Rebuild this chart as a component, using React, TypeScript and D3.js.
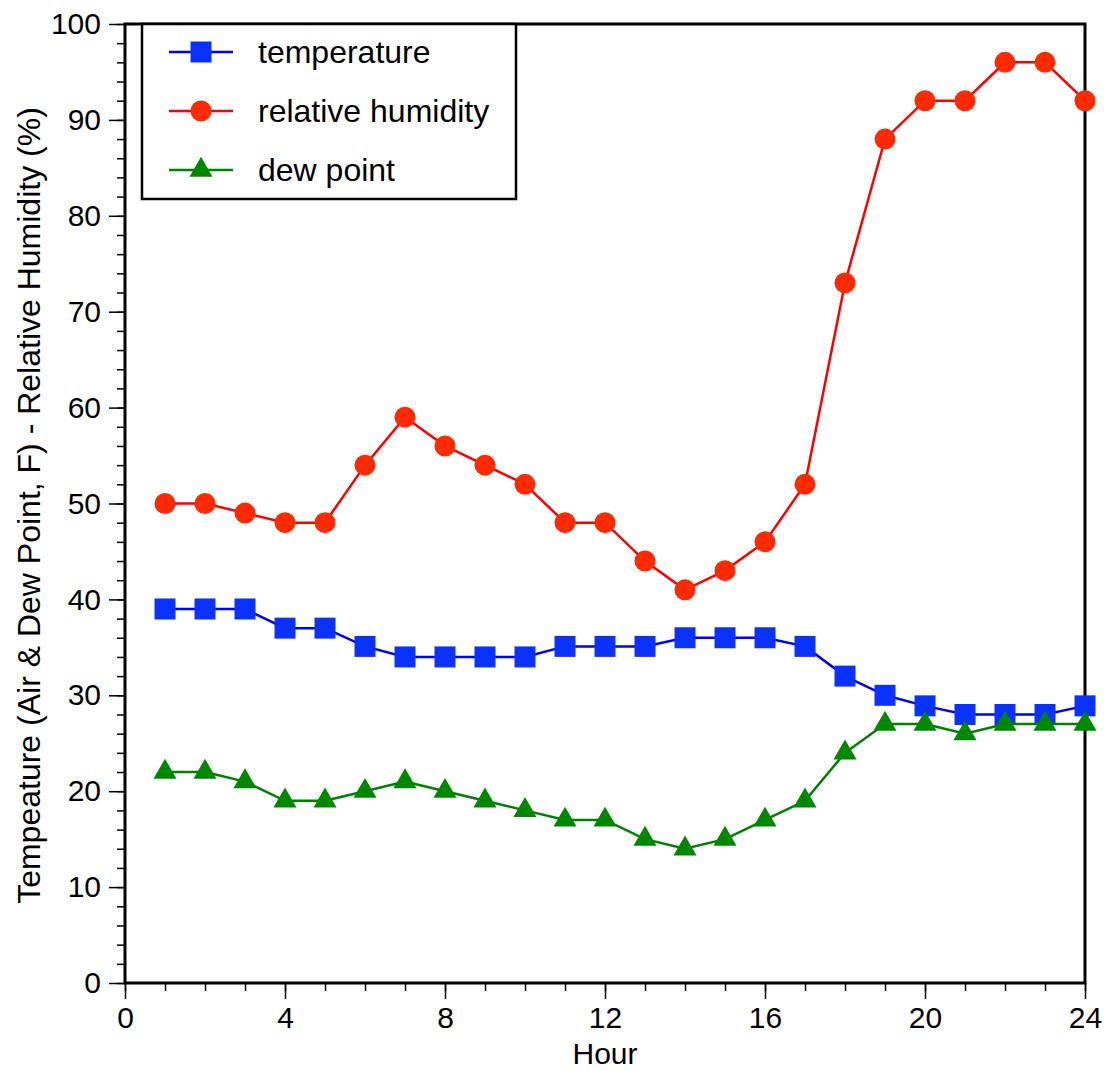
import React, { useEffect, useRef } from "react";
import * as d3 from "d3";

const hours = d3.range(1, 25);
const temperature = [39, 39, 39, 37, 37, 35.1, 34, 34, 34, 34, 35.1, 35.1, 35.1, 36, 36, 36, 35.1, 32, 30, 28.9, 28, 28, 28, 28.9];
const humidity = [50, 50, 49, 48, 48, 54, 59, 56, 54, 52, 48, 48, 44, 41, 43, 46, 52, 73, 88, 92, 92, 96, 96, 92];
const dewPoint = [22, 22, 21, 19, 19, 20, 21, 20, 19, 18, 17, 17, 15, 14, 15, 17, 19, 24, 27, 27, 26, 27, 27, 27];

const xMajorTicks = [0, 4, 8, 12, 16, 20, 24];
const yMajorTicks = [0, 10, 20, 30, 40, 50, 60, 70, 80, 90, 100];

const seriesList = [
  { name: "temperature", values: temperature, line: "#0000ff", fill: "#0a32ff", symbol: d3.symbolSquare, size: 441 },
  { name: "relative humidity", values: humidity, line: "#ff0000", fill: "#ff2a00", symbol: d3.symbolCircle, size: 346 },
  { name: "dew point", values: dewPoint, line: "#008000", fill: "#008800", symbol: d3.symbolTriangle, size: 230 },
];

const W = 1104;
const H = 1071;
const margin = { left: 125, right: 19, top: 24, bottom: 88 };
const FONT = "'Liberation Sans', Arial, Helvetica, sans-serif";

export default function App() {
  const ref = useRef<SVGSVGElement>(null);

  useEffect(() => {
    const svg = d3.select(ref.current);
    svg.selectAll("*").remove();

    const x = d3.scaleLinear().domain([0, 24]).range([margin.left, W - margin.right]);
    const y = d3.scaleLinear().domain([0, 100]).range([H - margin.bottom, margin.top]);

    svg.append("rect").attr("width", W).attr("height", H).attr("fill", "white");

    // minor ticks
    svg.append("g")
      .attr("transform", `translate(0,${y(0)})`)
      .call(d3.axisBottom(x).tickValues(d3.range(0, 25, 1)).tickSize(8).tickFormat(() => ""))
      .call(g => g.select(".domain").remove())
      .selectAll("line").attr("stroke-width", 1.5);
    svg.append("g")
      .attr("transform", `translate(${x(0)},0)`)
      .call(d3.axisLeft(y).tickValues(d3.range(0, 101, 2)).tickSize(8).tickFormat(() => ""))
      .call(g => g.select(".domain").remove())
      .selectAll("line").attr("stroke-width", 1.5);

    // major ticks
    const xAxis = svg.append("g")
      .attr("transform", `translate(0,${y(0)})`)
      .call(d3.axisBottom(x).tickValues(xMajorTicks).tickSize(16).tickPadding(8).tickFormat(d3.format("d")));
    xAxis.select(".domain").remove();
    xAxis.selectAll("line").attr("stroke-width", 1.5);
    xAxis.selectAll("text").attr("font-size", 30).attr("font-family", FONT).attr("fill", "#000");

    const yAxis = svg.append("g")
      .attr("transform", `translate(${x(0)},0)`)
      .call(d3.axisLeft(y).tickValues(yMajorTicks).tickSize(16).tickPadding(8).tickFormat(d3.format("d")));
    yAxis.select(".domain").remove();
    yAxis.selectAll("line").attr("stroke-width", 1.5);
    yAxis.selectAll("text").attr("font-size", 30).attr("font-family", FONT).attr("fill", "#000");

    // frame
    svg.append("rect")
      .attr("x", x(0)).attr("y", y(100))
      .attr("width", x(24) - x(0)).attr("height", y(0) - y(100))
      .attr("fill", "none").attr("stroke", "#000").attr("stroke-width", 3);

    // series
    seriesList.forEach(s => {
      const line = d3.line<number>().x((d, i) => x(hours[i])).y(d => y(d));
      svg.append("path")
        .attr("d", line(s.values))
        .attr("fill", "none")
        .attr("stroke", s.line)
        .attr("stroke-width", 2.5);
      svg.append("g").selectAll("path")
        .data(s.values)
        .enter()
        .append("path")
        .attr("d", d3.symbol().type(s.symbol).size(s.size))
        .attr("transform", (d, i) => `translate(${x(hours[i])},${y(d)})`)
        .attr("fill", s.fill);
    });

    // legend
    const legend = svg.append("g");
    legend.append("rect")
      .attr("x", 142).attr("y", 24).attr("width", 374).attr("height", 175)
      .attr("fill", "white").attr("stroke", "#000").attr("stroke-width", 2.5);
    seriesList.forEach((s, i) => {
      const ly = 52 + i * 59;
      legend.append("line")
        .attr("x1", 169).attr("x2", 233).attr("y1", ly).attr("y2", ly)
        .attr("stroke", s.line).attr("stroke-width", 2.5);
      legend.append("path")
        .attr("d", d3.symbol().type(s.symbol).size(s.size))
        .attr("transform", `translate(201,${ly})`)
        .attr("fill", s.fill);
      legend.append("text")
        .attr("x", 258).attr("y", ly)
        .attr("dy", "0.35em")
        .attr("font-size", 32).attr("font-family", FONT)
        .text(s.name);
    });

    // axis titles
    svg.append("text")
      .attr("x", (x(0) + x(24)) / 2).attr("y", 1064)
      .attr("text-anchor", "middle")
      .attr("font-size", 30).attr("font-family", FONT)
      .text("Hour");
    svg.append("text")
      .attr("transform", `translate(40,${(y(0) + y(100)) / 2 + 2}) rotate(-90)`)
      .attr("text-anchor", "middle")
      .attr("font-size", 32).attr("font-family", FONT)
      .text("Tempeature (Air & Dew Point, F) - Relative Humidity (%)");
  }, []);

  return <svg ref={ref} width={W} height={H} style={{ position: "absolute", left: 0, top: 0 }} />;
}
